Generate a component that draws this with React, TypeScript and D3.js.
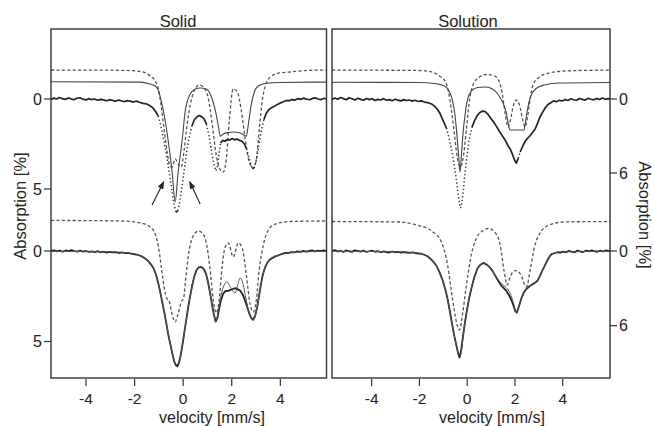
import React from 'react';
import * as d3 from 'd3';

type P = [number, number];

// ---------- labels & ticks ----------
const panelTitles = ['Solid', 'Solution'];
const xLabel = 'velocity [mm/s]';
const yLabel = 'Absorption [%]';
const velocityTicks = [-4, -2, 0, 2, 4];
const solidAbsTicks = [0, 5];
const solutionAbsTicks = [0, 6];

// ---------- Solid, top spectrum ----------
const solidTopData: P[] = [
  [-5.44, 0.03], [-5.32, -0.05], [-5.2, 0.0], [-5.1, -0.08], [-4.98, -0.02], [-4.85, 0.02], [-4.72, -0.06], [-4.62, -0.01],
  [-4.5, 0.04], [-4.38, -0.04], [-4.25, -0.07], [-4.12, 0.01], [-4.0, 0.05], [-3.9, -0.02], [-3.78, 0.03], [-3.65, 0.0],
  [-3.52, 0.07], [-3.4, 0.02], [-3.28, 0.05], [-3.15, 0.1], [-3.02, 0.04], [-2.9, 0.08], [-2.78, 0.13], [-2.66, 0.06],
  [-2.55, 0.1], [-2.42, 0.15], [-2.3, 0.09], [-2.18, 0.12], [-2.05, 0.17], [-1.93, 0.12], [-1.8, 0.18], [-1.65, 0.24],
  [-1.5, 0.28], [-1.36, 0.38], [-1.24, 0.5], [-1.12, 0.72], [-1.03, 0.95],
  [-0.95, 1.3], [-0.87, 1.8], [-0.78, 2.4], [-0.7, 3.0], [-0.62, 3.7], [-0.54, 4.4], [-0.46, 5.1], [-0.38, 5.8],
  [-0.3, 6.3], [-0.22, 6.2], [-0.14, 5.7], [-0.06, 5.0], [0.02, 4.2], [0.1, 3.4], [0.18, 2.6], [0.27, 2.0],
  [0.36, 1.5], [0.46, 1.15], [0.56, 1.0], [0.66, 0.92], [0.76, 0.98], [0.86, 1.1], [0.96, 1.4], [1.04, 1.9],
  [1.12, 2.5], [1.2, 3.15], [1.28, 3.7], [1.35, 4.0], [1.42, 3.7], [1.48, 3.0], [1.54, 2.45], [1.62, 2.3],
  [1.72, 2.35], [1.82, 2.25], [1.92, 2.28], [2.02, 2.2], [2.12, 2.27], [2.22, 2.22], [2.32, 2.3], [2.42, 2.35],
  [2.52, 2.5], [2.6, 2.75], [2.68, 3.1], [2.76, 3.5], [2.84, 3.85], [2.92, 3.85], [3.0, 3.45], [3.08, 2.85],
  [3.16, 2.2], [3.24, 1.6], [3.32, 1.15], [3.42, 0.8], [3.52, 0.6], [3.64, 0.48], [3.76, 0.4], [3.88, 0.3],
  [4.0, 0.22], [4.12, 0.15], [4.25, 0.08], [4.36, 0.1], [4.48, 0.03], [4.6, 0.06], [4.72, -0.02], [4.85, 0.02],
  [4.96, -0.05], [5.08, 0.01], [5.2, 0.04], [5.32, -0.03], [5.45, -0.06], [5.56, 0.0], [5.68, 0.03], [5.8, -0.04], [5.9, 0.0],
];
const solidTopSinglet: P[] = [
  [-5.44, -0.96], [-1.77, -0.94], [-1.36, -0.83], [-1.15, -0.72], [-1.03, -0.5], [-0.91, 0.06], [-0.78, 0.89],
  [-0.62, 2.28], [-0.45, 4.11], [-0.33, 5.72], [-0.21, 4.11], [-0.04, 2.28], [0.08, 0.72], [0.29, -0.28],
  [0.49, -0.56], [0.7, -0.61], [0.95, -0.56], [1.15, -0.17], [1.32, 0.61], [1.44, 1.44], [1.53, 2.06],
  [1.65, 1.94], [1.86, 1.86], [2.06, 1.83], [2.35, 1.89], [2.6, 2.06], [2.68, 1.44], [2.8, 0.33], [2.93, -0.39],
  [3.09, -0.72], [3.38, -0.86], [4.0, -0.92], [5.9, -0.94],
];
const solidTopDashed: P[] = [
  [-5.44, -1.61], [-3.0, -1.6], [-2.19, -1.58], [-1.65, -1.5], [-1.36, -1.28], [-1.15, -1.0], [-1.03, -0.61],
  [-0.91, 0.33], [-0.78, 1.72], [-0.66, 2.94], [-0.54, 3.72], [-0.45, 3.78], [-0.33, 3.33], [-0.21, 3.61],
  [-0.08, 3.78], [0.04, 2.83], [0.16, 1.44], [0.29, 0.33], [0.45, -0.44], [0.66, -0.78], [0.87, -0.61],
  [1.03, -0.06], [1.2, 1.44], [1.36, 3.1], [1.53, 3.94], [1.65, 4.06], [1.77, 3.39], [1.9, 1.17], [2.06, -0.56],
  [2.23, -0.39], [2.39, 0.61], [2.56, 2.28], [2.72, 3.5], [2.89, 3.83], [3.01, 3.39], [3.13, 1.72], [3.26, 0.06],
  [3.38, -0.72], [3.59, -1.22], [3.92, -1.44], [4.41, -1.5], [5.0, -1.58], [5.9, -1.61],
];
const solidArrowTails: P[] = [[-1.28, 5.89], [0.7, 5.83]];
const solidArrowHeads: P[] = [[-0.8, 4.6], [0.27, 4.6]];

// ---------- Solid, bottom spectrum ----------
const solidBottomData: P[] = [
  [-5.44, 0.0], [-5.32, -0.04], [-5.2, 0.02], [-5.08, -0.02], [-4.96, 0.04], [-4.84, -0.03], [-4.72, 0.01], [-4.6, -0.05],
  [-4.48, 0.0], [-4.36, 0.04], [-4.24, -0.02], [-4.12, 0.03], [-4.0, 0.0], [-3.88, 0.05], [-3.76, 0.02], [-3.64, 0.06],
  [-3.52, 0.01], [-3.4, 0.07], [-3.28, 0.04], [-3.15, 0.09], [-3.02, 0.05], [-2.9, 0.08], [-2.78, 0.06], [-2.65, 0.11],
  [-2.52, 0.08], [-2.4, 0.12], [-2.27, 0.1], [-2.14, 0.15], [-2.0, 0.18],
  [-1.85, 0.22], [-1.7, 0.3], [-1.56, 0.42], [-1.44, 0.55], [-1.32, 0.75], [-1.22, 0.95], [-1.12, 1.3], [-1.03, 1.75],
  [-0.94, 2.3], [-0.85, 2.9], [-0.76, 3.5], [-0.68, 4.1], [-0.6, 4.7], [-0.52, 5.2], [-0.44, 5.7], [-0.37, 6.1],
  [-0.3, 6.3], [-0.24, 6.38], [-0.18, 6.2], [-0.1, 5.75], [-0.02, 5.1], [0.06, 4.4], [0.14, 3.7], [0.22, 3.0],
  [0.3, 2.4], [0.38, 1.85], [0.46, 1.4], [0.55, 1.05], [0.64, 0.9], [0.74, 0.88], [0.84, 0.98], [0.94, 1.25],
  [1.02, 1.7], [1.1, 2.25], [1.18, 2.9], [1.26, 3.5], [1.34, 3.9], [1.41, 3.7], [1.48, 3.2], [1.56, 2.7],
  [1.65, 2.35], [1.75, 2.2], [1.85, 2.2], [1.95, 2.15], [2.05, 2.1], [2.15, 2.05], [2.25, 2.12], [2.35, 2.2],
  [2.45, 2.4], [2.55, 2.75], [2.64, 3.1], [2.72, 3.45], [2.8, 3.7], [2.88, 3.8], [2.96, 3.6], [3.04, 3.15],
  [3.12, 2.5], [3.2, 1.85], [3.28, 1.3], [3.36, 0.95], [3.46, 0.65], [3.56, 0.48], [3.68, 0.38], [3.8, 0.3],
  [3.95, 0.22], [4.08, 0.16], [4.2, 0.1], [4.32, 0.12], [4.45, 0.06], [4.58, 0.08], [4.7, 0.02], [4.82, 0.05],
  [4.95, -0.01], [5.06, 0.03], [5.18, 0.0], [5.3, -0.03], [5.42, 0.02], [5.55, -0.02], [5.66, 0.01], [5.78, -0.03], [5.9, 0.02],
];
const solidBottomFit: P[] = [
  [-5.44, 0.02], [-3.0, 0.05], [-2.2, 0.12], [-1.7, 0.3], [-1.44, 0.55], [-1.22, 0.95], [-1.03, 1.72],
  [-0.85, 2.9], [-0.68, 4.1], [-0.52, 5.2], [-0.37, 6.05], [-0.27, 6.3], [-0.16, 6.1], [-0.02, 5.1],
  [0.14, 3.7], [0.3, 2.4], [0.46, 1.4], [0.64, 0.9], [0.84, 0.98], [1.02, 1.7], [1.18, 2.9], [1.34, 3.88],
  [1.45, 3.3], [1.56, 2.45], [1.68, 1.9], [1.81, 1.71], [1.95, 2.0], [2.14, 2.32], [2.25, 1.85], [2.35, 1.49],
  [2.47, 1.85], [2.58, 2.6], [2.7, 3.35], [2.84, 3.75], [2.9, 3.78], [3.04, 3.15], [3.2, 1.85], [3.36, 0.95],
  [3.56, 0.48], [3.8, 0.3], [4.2, 0.12], [5.0, 0.04], [5.9, 0.02],
];
const solidBottomDashed: P[] = [
  [-5.44, -1.69], [-2.6, -1.66], [-1.77, -1.55], [-1.36, -1.33], [-1.15, -0.94], [-1.03, -0.33], [-0.91, 0.77],
  [-0.78, 2.04], [-0.66, 2.65], [-0.58, 2.76], [-0.45, 3.54], [-0.33, 3.92], [-0.21, 3.48], [-0.08, 2.82],
  [0.02, 2.6], [0.12, 1.33], [0.25, -0.06], [0.41, -0.83], [0.62, -1.1], [0.82, -0.94], [0.99, -0.17],
  [1.11, 1.05], [1.24, 2.71], [1.36, 3.43], [1.48, 2.71], [1.61, 0.77], [1.73, -0.22], [1.86, -0.44],
  [2.06, 0.33], [2.27, -0.44], [2.43, -0.17], [2.6, 1.33], [2.76, 2.98], [2.89, 3.37], [3.01, 2.71],
  [3.13, 1.05], [3.3, -0.33], [3.51, -1.16], [3.79, -1.49], [4.41, -1.63], [5.9, -1.66],
];

// ---------- Solution, top spectrum ----------
const solutionTopData: P[] = [
  [-5.66, 0.04], [-5.54, -0.08], [-5.42, 0.02], [-5.3, -0.12], [-5.18, -0.03], [-5.06, 0.06], [-4.94, -0.1], [-4.82, -0.02],
  [-4.7, 0.08], [-4.58, -0.06], [-4.46, 0.03], [-4.34, 0.1], [-4.22, -0.04], [-4.1, 0.05], [-3.98, -0.02], [-3.86, 0.12],
  [-3.74, 0.03], [-3.62, 0.08], [-3.5, -0.03], [-3.38, 0.1], [-3.26, 0.05], [-3.14, 0.14], [-3.02, 0.02], [-2.9, 0.09],
  [-2.78, 0.15], [-2.66, 0.05], [-2.54, 0.12], [-2.42, 0.08], [-2.3, 0.17], [-2.18, 0.1], [-2.05, 0.2], [-1.92, 0.15],
  [-1.79, 0.25], [-1.64, 0.3], [-1.49, 0.4], [-1.36, 0.6], [-1.24, 0.85], [-1.13, 1.2],
  [-1.03, 1.65], [-0.95, 2.0], [-0.87, 2.35], [-0.78, 3.0], [-0.7, 3.7], [-0.62, 4.4], [-0.55, 5.3], [-0.47, 6.3],
  [-0.4, 7.4], [-0.33, 8.4], [-0.28, 8.85], [-0.22, 8.4], [-0.16, 7.4], [-0.1, 6.2], [-0.03, 5.0], [0.04, 3.9],
  [0.11, 3.0], [0.2, 2.3], [0.31, 1.75], [0.42, 1.35], [0.52, 1.12], [0.64, 0.98], [0.74, 1.0], [0.85, 1.2],
  [0.98, 1.55], [1.1, 1.85], [1.22, 2.2], [1.34, 2.6], [1.46, 2.95], [1.58, 3.3], [1.7, 3.75], [1.8, 4.05],
  [1.9, 4.5], [1.98, 4.95], [2.06, 5.2], [2.14, 4.8], [2.22, 4.3], [2.32, 3.85], [2.42, 3.45], [2.52, 3.2],
  [2.62, 3.0], [2.72, 2.75], [2.84, 2.45], [2.94, 2.0], [3.04, 1.5], [3.15, 1.1], [3.26, 0.75], [3.38, 0.45],
  [3.5, 0.3], [3.62, 0.15], [3.74, 0.22], [3.86, 0.1], [3.98, 0.16], [4.1, 0.04], [4.22, 0.12], [4.34, -0.02],
  [4.46, 0.06], [4.58, 0.1], [4.7, -0.04], [4.82, 0.03], [4.94, 0.09], [5.06, -0.06], [5.18, 0.02], [5.3, 0.07],
  [5.42, -0.05], [5.54, 0.04], [5.66, -0.08], [5.78, 0.02], [5.9, -0.03], [5.98, 0.0],
];
const solutionTopSinglet: P[] = [
  [-5.66, -1.36], [-2.0, -1.34], [-1.37, -1.26], [-0.95, -1.05], [-0.74, -0.57], [-0.62, 0.08], [-0.51, 1.3],
  [-0.43, 2.92], [-0.36, 4.54], [-0.3, 5.92], [-0.24, 4.54], [-0.18, 2.92], [-0.09, 1.3], [0.01, 0.08],
  [0.18, -0.65], [0.43, -0.93], [0.77, -0.97], [1.06, -0.81], [1.31, -0.32], [1.52, 0.41], [1.64, 1.14],
  [1.73, 2.11], [1.79, 2.51], [2.06, 2.51], [2.38, 2.51], [2.44, 1.87], [2.52, 0.89], [2.65, -0.16],
  [2.86, -0.81], [3.23, -1.14], [3.86, -1.3], [5.98, -1.34],
];
const solutionTopDashed: P[] = [
  [-5.66, -2.35], [-2.0, -2.31], [-1.49, -2.19], [-1.16, -1.87], [-0.91, -1.38], [-0.78, -0.57], [-0.66, 0.89],
  [-0.53, 2.92], [-0.41, 4.79], [-0.28, 5.51], [-0.15, 4.54], [-0.03, 2.35], [0.1, 0.08], [0.26, -1.22],
  [0.51, -1.78], [0.81, -1.99], [1.14, -1.87], [1.35, -1.38], [1.48, -0.32], [1.6, 1.3], [1.71, 2.27],
  [1.81, 1.7], [1.94, 0.49], [2.06, 0.08], [2.19, 0.49], [2.31, 1.54], [2.42, 2.27], [2.52, 1.54],
  [2.65, -0.16], [2.77, -1.22], [3.03, -1.78], [3.44, -2.11], [4.07, -2.27], [5.98, -2.35],
];

// ---------- Solution, bottom spectrum ----------
const solutionBottomData: P[] = [
  [-5.66, 0.0], [-5.54, -0.07], [-5.42, 0.04], [-5.3, -0.02], [-5.18, 0.08], [-5.06, -0.05], [-4.94, 0.02], [-4.82, 0.07],
  [-4.7, -0.06], [-4.58, 0.0], [-4.46, 0.05], [-4.34, -0.03], [-4.22, 0.08], [-4.1, 0.02], [-3.98, -0.04], [-3.86, 0.06],
  [-3.74, 0.01], [-3.62, 0.1], [-3.5, 0.03], [-3.38, 0.08], [-3.26, 0.12], [-3.14, 0.04], [-3.02, 0.1], [-2.9, 0.06],
  [-2.78, 0.13], [-2.66, 0.08], [-2.54, 0.12], [-2.42, 0.15], [-2.3, 0.11], [-2.18, 0.16], [-2.05, 0.2],
  [-1.91, 0.22], [-1.78, 0.32], [-1.66, 0.42], [-1.52, 0.65], [-1.4, 0.9], [-1.28, 1.2], [-1.16, 1.7],
  [-1.03, 2.33], [-0.92, 3.05], [-0.82, 3.86], [-0.72, 4.9], [-0.62, 6.0], [-0.53, 6.9], [-0.45, 7.6], [-0.38, 8.2],
  [-0.32, 8.55], [-0.26, 8.1], [-0.2, 7.2], [-0.12, 6.1], [-0.03, 4.98], [0.07, 3.9], [0.18, 2.97], [0.3, 2.1],
  [0.43, 1.4], [0.55, 1.1], [0.68, 0.96], [0.82, 1.1], [0.94, 1.3], [1.06, 1.6], [1.18, 2.0], [1.3, 2.4],
  [1.42, 2.75], [1.54, 3.0], [1.64, 3.2], [1.75, 3.55], [1.85, 3.94], [1.94, 4.4], [2.02, 4.85], [2.08, 4.95],
  [2.16, 4.5], [2.27, 3.8], [2.38, 3.3], [2.48, 3.05], [2.6, 2.85], [2.72, 2.7], [2.84, 2.55], [2.94, 2.4],
  [3.05, 2.0], [3.14, 1.6], [3.23, 1.25], [3.33, 0.85], [3.43, 0.5], [3.53, 0.25], [3.65, 0.18], [3.78, 0.1],
  [3.9, 0.14], [4.02, 0.05], [4.14, 0.1], [4.26, -0.02], [4.38, 0.06], [4.5, 0.09], [4.62, -0.03], [4.74, 0.04],
  [4.86, 0.08], [4.98, -0.04], [5.1, 0.03], [5.22, -0.06], [5.34, 0.02], [5.46, 0.06], [5.58, -0.03], [5.7, 0.04],
  [5.82, -0.05], [5.98, 0.02],
];
const solutionBottomFit: P[] = [
  [-5.66, 0.02], [-3.0, 0.06], [-2.2, 0.14], [-1.78, 0.32], [-1.52, 0.65], [-1.28, 1.2], [-1.03, 2.33],
  [-0.82, 3.86], [-0.62, 6.0], [-0.45, 7.6], [-0.33, 8.6], [-0.26, 8.2], [-0.12, 6.1], [0.07, 3.9], [0.3, 2.1],
  [0.55, 1.1], [0.7, 0.95], [0.94, 1.3], [1.18, 1.95], [1.42, 2.6], [1.64, 2.95], [1.8, 3.4], [1.94, 4.2],
  [2.06, 4.95], [2.16, 4.5], [2.38, 3.3], [2.6, 2.85], [2.84, 2.55], [3.05, 2.0], [3.33, 0.85], [3.53, 0.25],
  [3.9, 0.08], [5.98, 0.02],
];
const solutionBottomDashed: P[] = [
  [-5.66, -2.37], [-2.83, -2.33], [-2.2, -2.13], [-1.49, -1.61], [-1.08, -0.72], [-0.82, 1.12], [-0.62, 3.78],
  [-0.45, 5.7], [-0.32, 6.35], [-0.2, 5.14], [-0.03, 2.73], [0.18, 0.24], [0.39, -1.04], [0.64, -1.61],
  [0.89, -1.81], [1.18, -1.45], [1.39, -0.4], [1.54, 1.53], [1.67, 2.73], [1.81, 2.01], [2.02, 1.57],
  [2.23, 1.85], [2.48, 2.89], [2.65, 1.37], [2.82, -0.32], [3.11, -1.61], [3.44, -2.09], [4.07, -2.33],
  [5.98, -2.37],
];

// ---------- layout ----------
const FONT = '"Liberation Sans", Arial, Helvetica, sans-serif';
const W = 654, H = 426;
const frameTop = 29, frameBottom = 378;
const INK = '#222';

function pathsForData(pts: P[], x: any, y: any, dotSteep: boolean) {
  const xy: [number, number][] = pts.map(p => [x(p[0]), y(p[1])]);
  const line = d3.line();
  if (!dotSteep) return { solid: line(xy) || '', dot: '' };
  let solid = '', dot = '';
  let run: [number, number][] = [xy[0]];
  let runSteep: boolean | null = null;
  for (let i = 1; i < xy.length; i++) {
    const dx = Math.abs(xy[i][0] - xy[i - 1][0]) || 0.001;
    const steep = Math.abs(xy[i][1] - xy[i - 1][1]) / dx > 3;
    if (runSteep === null || steep === runSteep) {
      run.push(xy[i]);
      runSteep = steep;
    } else {
      if (runSteep) dot += line(run); else solid += line(run);
      run = [xy[i - 1], xy[i]];
      runSteep = steep;
    }
  }
  if (runSteep) dot += line(run); else solid += line(run);
  return { solid, dot };
}

function Panel(props: {
  idx: number; x0: number; x1: number; vDomain: [number, number];
  topRange: [number, number]; botRange: [number, number]; absTicks: number[];
  top: { data: P[]; singlet: P[]; dashed: P[] };
  bot: { data: P[]; fit: P[]; dashed: P[] };
  side: 'left' | 'right'; labelX: number; titleX: number;
  arrows?: { tails: P[]; heads: P[] };
}) {
  const { idx, x0, x1, vDomain, topRange, botRange, absTicks, top, bot, side } = props;
  const x = d3.scaleLinear().domain(vDomain).range([x0, x1]);
  const yTop = d3.scaleLinear().domain([0, absTicks[1]]).range(topRange);
  const yBot = d3.scaleLinear().domain([0, absTicks[1]]).range(botRange);
  const smooth = (pts: P[], y: any) =>
    d3.line<P>().x(d => x(d[0])).y(d => y(d[1])).curve(d3.curveMonotoneX)(pts) || '';
  const clipId = `clip${idx}`;
  const topD = pathsForData(top.data, x, yTop, true);
  const botD = pathsForData(bot.data, x, yBot, false);
  const axisX = side === 'left' ? x0 : x1;
  const tickDir = side === 'left' ? -1 : 1;
  return (
    <g>
      <defs>
        <clipPath id={clipId}>
          <rect x={x0} y={frameTop} width={x1 - x0} height={frameBottom - frameTop} />
        </clipPath>
      </defs>
      <g clipPath={`url(#${clipId})`} fill="none">
        <path d={smooth(top.dashed, yTop)} stroke="#555" strokeWidth={1.3} strokeDasharray="3.2 2.2" />
        <path d={smooth(top.singlet, yTop)} stroke="#444" strokeWidth={1.1} />
        <path d={topD.solid} stroke={INK} strokeWidth={1.7} strokeLinejoin="round" />
        <path d={topD.dot} stroke="#333" strokeWidth={1.5} strokeDasharray="1.3 2.4" />
        <path d={smooth(bot.dashed, yBot)} stroke="#555" strokeWidth={1.3} strokeDasharray="3.2 2.2" />
        <path d={botD.solid} stroke={INK} strokeWidth={1.8} strokeLinejoin="round" />
        <path d={smooth(bot.fit, yBot)} stroke="#555" strokeWidth={1.0} />
      </g>
      {props.arrows && props.arrows.tails.map((t, i) => (
        <line key={i} x1={x(t[0])} y1={yTop(t[1])} x2={x(props.arrows!.heads[i][0])} y2={yTop(props.arrows!.heads[i][1])}
          stroke={INK} strokeWidth={1.1} markerEnd="url(#arrowHead)" />
      ))}
      <rect x={x0} y={frameTop} width={x1 - x0} height={frameBottom - frameTop} fill="none" stroke="#333" strokeWidth={1.4} />
      {velocityTicks.map(v => (
        <g key={v}>
          <line x1={x(v)} x2={x(v)} y1={frameBottom + 1} y2={frameBottom + 8} stroke="#333" strokeWidth={1.2} />
          <text x={x(v)} y={404} textAnchor="middle" fontSize={15.5} fontFamily={FONT} fill={INK}>{v}</text>
        </g>
      ))}
      <text x={props.labelX} y={422.5} textAnchor="middle" fontSize={16} fontFamily={FONT} fill={INK}>{xLabel}</text>
      <text x={props.titleX} y={27} textAnchor="middle" fontSize={16.5} fontFamily={FONT} fill={INK}>{panelTitles[idx]}</text>
      {[yTop, yBot].map((y, k) => absTicks.map(t => (
        <g key={`${k}-${t}`}>
          <line x1={axisX} x2={axisX + tickDir * 7} y1={y(t)} y2={y(t)} stroke="#333" strokeWidth={1.2} />
          <text x={axisX + tickDir * 9} y={y(t)} dominantBaseline="central" textAnchor={side === 'left' ? 'end' : 'start'}
            fontSize={16} fontFamily={FONT} fill={INK}>{t}</text>
        </g>
      )))}
    </g>
  );
}

export default function App() {
  return (
    <svg width={W} height={H} viewBox={`0 0 ${W} ${H}`} style={{ position: 'absolute', left: 0, top: 0, background: '#fff' }}>
      <defs>
        <marker id="arrowHead" markerWidth={8} markerHeight={6} refX={7} refY={3} orient="auto" markerUnits="userSpaceOnUse">
          <path d="M0,0 L8,3 L0,6 z" fill={INK} />
        </marker>
      </defs>
      <rect x={0} y={0} width={W} height={H} fill="#fff" />
      <Panel idx={0} x0={51} x1={326.5} vDomain={[-5.44, 5.9]} topRange={[99, 189]} botRange={[251, 341.5]}
        absTicks={solidAbsTicks} side="left" labelX={212} titleX={178}
        top={{ data: solidTopData, singlet: solidTopSinglet, dashed: solidTopDashed }}
        bot={{ data: solidBottomData, fit: solidBottomFit, dashed: solidBottomDashed }}
        arrows={{ tails: solidArrowTails, heads: solidArrowHeads }} />
      <Panel idx={1} x0={332} x1={610} vDomain={[-5.66, 5.98]} topRange={[99, 173]} botRange={[251, 325.7]}
        absTicks={solutionAbsTicks} side="right" labelX={492} titleX={468}
        top={{ data: solutionTopData, singlet: solutionTopSinglet, dashed: solutionTopDashed }}
        bot={{ data: solutionBottomData, fit: solutionBottomFit, dashed: solutionBottomDashed }} />
      <text transform="translate(20,206) rotate(-90)" textAnchor="middle" dominantBaseline="central"
        fontSize={16.5} fontFamily={FONT} fill={INK}>{yLabel}</text>
      <text transform="translate(645,215) rotate(90)" textAnchor="middle" dominantBaseline="central"
        fontSize={16.5} fontFamily={FONT} fill={INK}>{yLabel}</text>
    </svg>
  );
}
